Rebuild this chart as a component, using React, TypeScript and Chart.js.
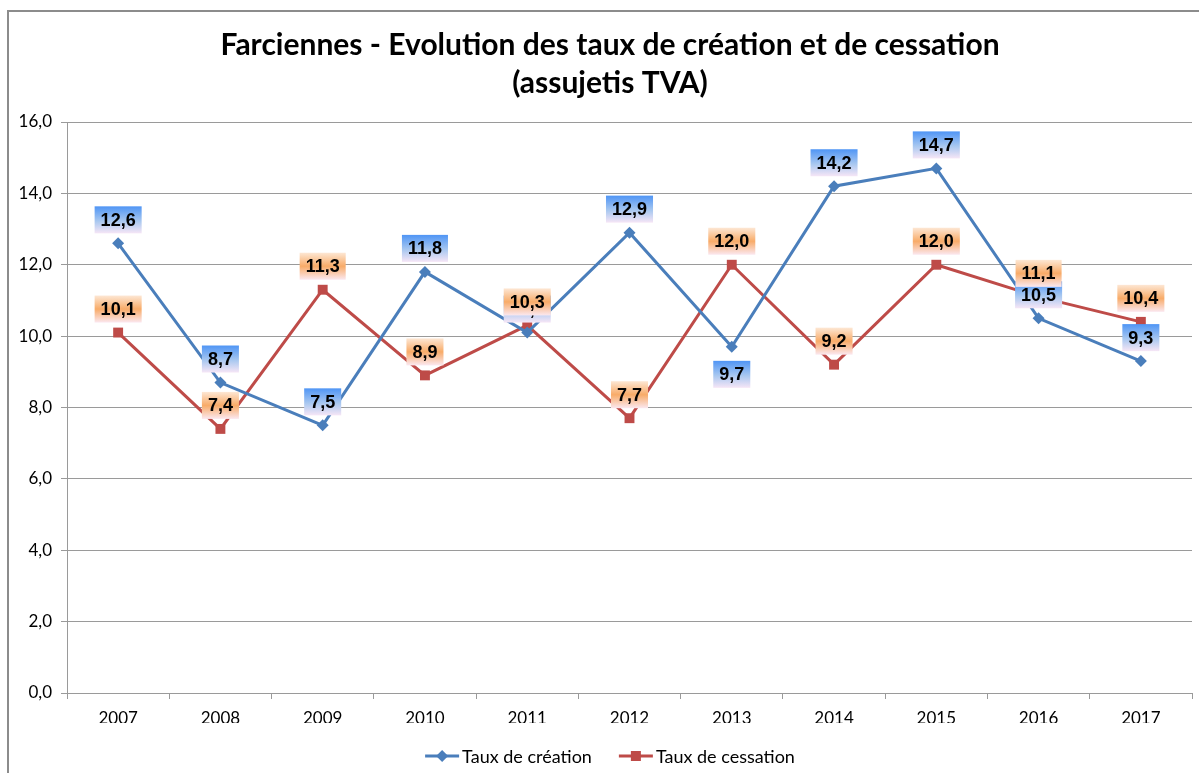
import { useEffect, useRef } from "react";
import { Chart, registerables } from "chart.js";

Chart.register(...registerables);

const years = ["2007", "2008", "2009", "2010", "2011", "2012", "2013", "2014", "2015", "2016", "2017"];
const creation = [12.6, 8.7, 7.5, 11.8, 10.1, 12.9, 9.7, 14.2, 14.7, 10.5, 9.3];
const cessation = [10.1, 7.4, 11.3, 8.9, 10.3, 7.7, 12.0, 9.2, 12.0, 11.1, 10.4];
const creationLabelBelow = [false, false, false, false, false, false, true, false, false, false, false];
const cessationLabelBelow = [false, false, false, false, false, false, false, false, false, false, false];
const titleLines = ["Farciennes - Evolution des taux de création et de cessation", "(assujetis TVA)"];
const seriesNames = ["Taux de création", "Taux de cessation"];

const BLUE = "#4a7ebb";
const RED = "#be4b48";
const fmt = (v: number) => v.toFixed(1).replace(".", ",");

export default function App() {
  const ref = useRef<HTMLCanvasElement | null>(null);

  useEffect(() => {
    document.body.style.margin = "0";
    const canvas = ref.current;
    if (!canvas) return;

    const gradStops = [
      [
        [0, "#4f95f5"],
        [0.55, "#a9c8f0"],
        [1, "#f6e6f6"],
      ],
      [
        [0, "#fde7d4"],
        [0.5, "#f8ab68"],
        [1, "#fbe8f0"],
      ],
    ] as [number, string][][];
    const belowFlags = [creationLabelBelow, cessationLabelBelow];

    const decor = {
      id: "decor",
      beforeDraw(chart: any) {
        const ctx = chart.ctx;
        ctx.save();
        ctx.fillStyle = "#fff";
        ctx.fillRect(0, 0, chart.width, chart.height);
        ctx.restore();
      },
      afterDatasetsDraw(chart: any) {
        const ctx = chart.ctx;
        ctx.save();
        ctx.font = 'bold 18px "Liberation Sans", Arial, sans-serif';
        ctx.textAlign = "center";
        ctx.textBaseline = "middle";
        chart.data.datasets.forEach((ds: any, di: number) => {
          const meta = chart.getDatasetMeta(di);
          meta.data.forEach((pt: any, i: number) => {
            const text = fmt(ds.data[i]);
            const w = ctx.measureText(text).width + 12;
            const h = 27;
            const below = belowFlags[di][i];
            const x0 = pt.x - w / 2;
            const y0 = below ? pt.y + 14 : pt.y - 10 - h;
            const g = ctx.createLinearGradient(0, y0, 0, y0 + h);
            gradStops[di].forEach(([o, c]) => g.addColorStop(o, c));
            ctx.fillStyle = g;
            ctx.fillRect(x0, y0, w, h);
            ctx.fillStyle = "#000";
            ctx.fillText(text, pt.x, y0 + h / 2 + 1);
          });
        });
        ctx.restore();
      },
      afterDraw(chart: any) {
        const ctx = chart.ctx;
        ctx.save();
        // frame
        ctx.strokeStyle = "#8c8c8c";
        ctx.lineWidth = 2;
        ctx.strokeRect(8, 11, 1300, 900);
        // title
        ctx.fillStyle = "#000";
        ctx.textAlign = "center";
        ctx.textBaseline = "middle";
        ctx.font = 'bold 30px Lato, "Open Sans", sans-serif';
        ctx.fillText(titleLines[0], 610, 45);
        ctx.fillText(titleLines[1], 610, 83);
        // legend
        ctx.font = '18px Lato, "Open Sans", sans-serif';
        ctx.textAlign = "left";
        const sample = 34;
        const gapText = 3;
        const gapItems = 27;
        const widths = seriesNames.map((n) => sample + gapText + ctx.measureText(n).width);
        const total = widths[0] + widths[1] + gapItems;
        let x = 610 - total / 2;
        const y = 756;
        seriesNames.forEach((n, i) => {
          const col = i === 0 ? BLUE : RED;
          ctx.strokeStyle = col;
          ctx.lineWidth = 3;
          ctx.beginPath();
          ctx.moveTo(x, y);
          ctx.lineTo(x + sample, y);
          ctx.stroke();
          ctx.fillStyle = col;
          const cx = x + sample / 2;
          if (i === 0) {
            ctx.beginPath();
            ctx.moveTo(cx, y - 6);
            ctx.lineTo(cx + 6, y);
            ctx.lineTo(cx, y + 6);
            ctx.lineTo(cx - 6, y);
            ctx.closePath();
            ctx.fill();
          } else {
            ctx.fillRect(cx - 5, y - 5, 10, 10);
          }
          ctx.fillStyle = "#000";
          ctx.fillText(n, x + sample + gapText, y + 1);
          x += widths[i] + gapItems;
        });
        ctx.restore();
      },
    };

    const chart = new Chart(canvas, {
      type: "line",
      data: {
        labels: years,
        datasets: [
          {
            label: seriesNames[0],
            data: creation,
            borderColor: BLUE,
            backgroundColor: BLUE,
            borderWidth: 3,
            pointStyle: "rectRot",
            pointRadius: 6,
            pointBorderWidth: 0,
            tension: 0,
          },
          {
            label: seriesNames[1],
            data: cessation,
            borderColor: RED,
            backgroundColor: RED,
            borderWidth: 3,
            pointStyle: "rect",
            pointRadius: 7,
            pointBorderWidth: 0,
            tension: 0,
          },
        ],
      },
      options: {
        responsive: false,
        animation: false,
        layout: { padding: { top: 122, right: 6, bottom: 50, left: 0 } },
        plugins: {
          legend: { display: false },
          title: { display: false },
          tooltip: { enabled: false },
        },
        scales: {
          x: {
            type: "category",
            offset: true,
            grid: {
              offset: true,
              drawOnChartArea: false,
              drawTicks: true,
              tickLength: 6,
              color: "#9a9a9a",
            },
            border: { color: "#9a9a9a", width: 1 },
            ticks: {
              color: "#000",
              font: { family: 'Lato, "Open Sans", sans-serif', size: 17 },
              padding: 9,
              maxRotation: 0,
            },
            afterFit: (s: any) => {
              s.height = 30;
            },
          },
          y: {
            min: 0,
            max: 16,
            ticks: {
              stepSize: 2,
              color: "#000",
              font: { family: 'Lato, "Open Sans", sans-serif', size: 17 },
              padding: 9,
              callback: (v: any) => fmt(Number(v)),
            },
            grid: { color: "#9a9a9a", lineWidth: 1, tickLength: 6 },
            border: { color: "#9a9a9a", width: 1 },
            afterFit: (s: any) => {
              s.width = 67;
            },
          },
        },
      },
      plugins: [decor],
    });

    return () => chart.destroy();
  }, []);

  return <canvas ref={ref} width={1199} height={773} style={{ display: "block" }} />;
}
